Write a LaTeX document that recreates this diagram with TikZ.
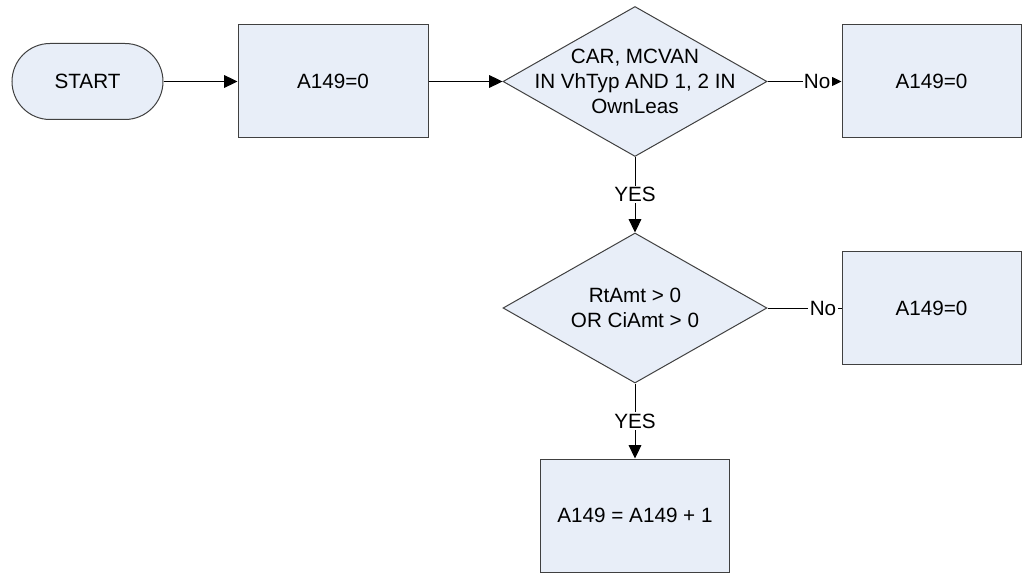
\documentclass[tikz,border=0pt]{standalone}
\usepackage{fontspec}
\setmainfont{Liberation Sans}
\usetikzlibrary{arrows.meta,shapes.geometric}
\definecolor{boxfill}{HTML}{E8EEF8}
\definecolor{edge}{HTML}{404040}
\tikzset{flowbox/.style={draw=edge,fill=boxfill,line width=0.75pt,align=center,
 font=\fontsize{15.5}{19}\selectfont,inner sep=0pt},
 flowarrow/.style={-{Triangle[length=10pt,width=9.5pt]},draw=black,line width=0.75pt},
 flowline/.style={draw=black,line width=0.75pt},
 flowlabel/.style={fill=white,inner sep=1pt,font=\fontsize{15.5}{19}\selectfont},
 qtext/.style={align=center,inner sep=0pt,font=\fontsize{15.5}{19}\selectfont}}

\begin{document}
\begin{tikzpicture}[x=0.75pt,y=-0.75pt,b/.style={flowbox,minimum height=84.75pt},
 q/.style={flowbox,shape=diamond,minimum width=198pt,minimum height=112.5pt}]
\useasboundingbox (0,0) rectangle (1023,573);
\node[flowbox,rounded corners=28.5pt,minimum width=113.25pt,minimum height=57pt] (start) at (87.5,81.5) {START};
\node[b,minimum width=142.5pt] (init) at (333,81.5) {A149=0};
\node[q,label={[qtext]center:{CAR, MCVAN\\IN VhTyp AND 1, 2 IN\\OwnLeas}}] (veh) at (635,81.5) {};
\node[b,minimum width=134.25pt] (veh0) at (931.5,81.5) {A149=0};
\node[q,label={[qtext]center:{RtAmt > 0\\OR CiAmt > 0}}] (amt) at (635,308) {};
\node[b,minimum width=134.25pt] (amt0) at (931.5,308) {A149=0};
\node[b,minimum width=141.75pt] (inc) at (635,515.5) {A149 = A149 + 1};
\draw[flowarrow] (start)--(init);\draw[flowarrow] (init)--(veh);
\draw[flowarrow] (veh)--node[flowlabel,pos=0.67]{No}(veh0);
\draw[flowline] (amt)--node[flowlabel,pos=0.75]{No}(amt0);
\draw[flowarrow] (veh)--node[flowlabel]{YES}(amt);
\draw[flowarrow] (amt)--node[flowlabel]{YES}(inc);
\end{tikzpicture}
\end{document}
